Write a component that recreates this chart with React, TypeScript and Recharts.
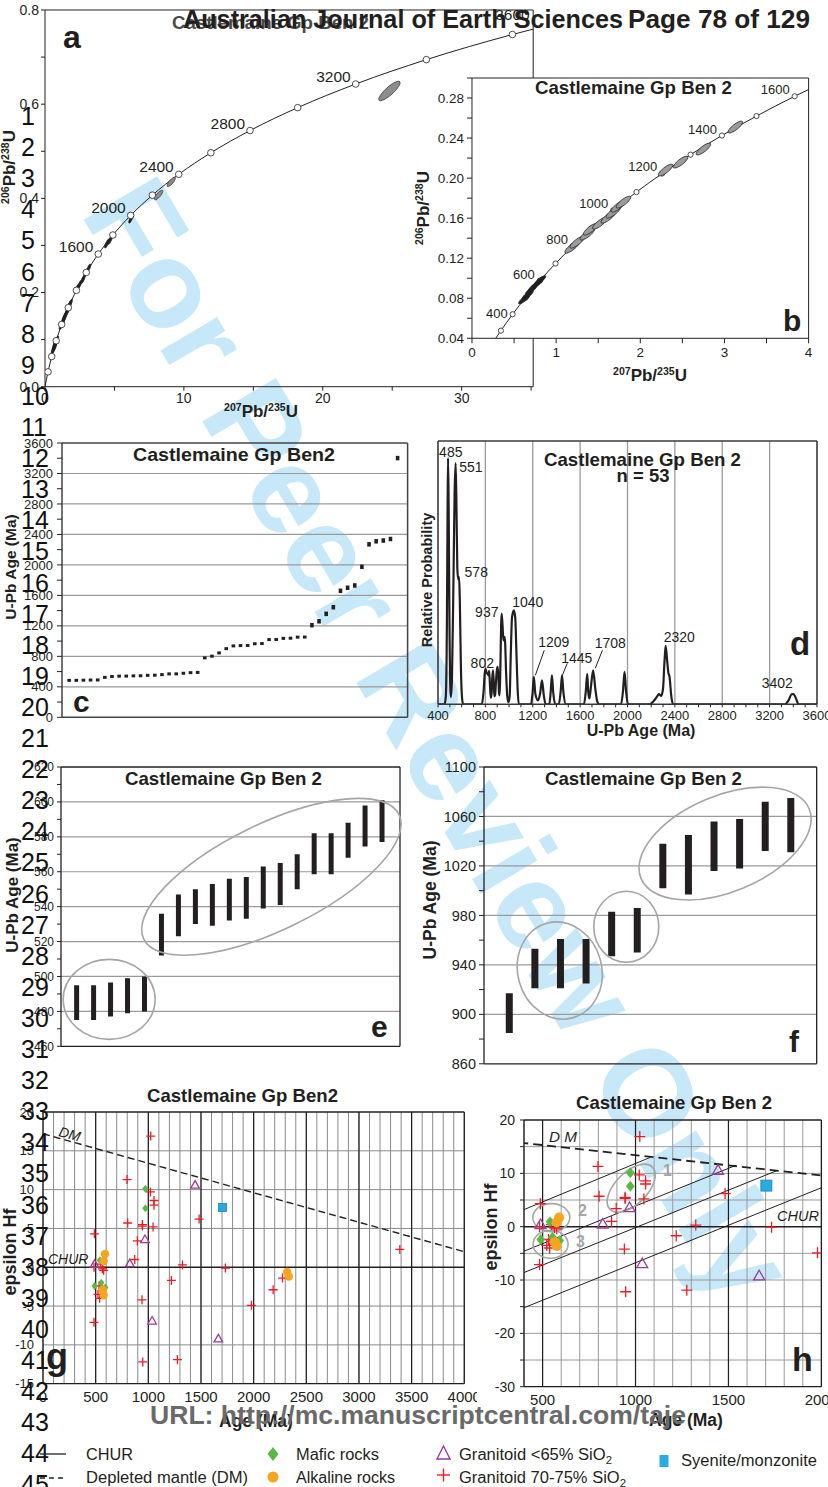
import React from 'react';
import {
  ComposedChart,
  Line,
  Scatter,
  Bar,
  XAxis,
  YAxis,
  CartesianGrid,
  ReferenceLine,
  ReferenceDot,
} from 'recharts';

const FONT = '"Liberation Sans", Arial, Helvetica, sans-serif';
const INK = '#231f20';
const GRID = '#9a9a9a';

// ---- a, b: concordia reference curve (Ma, 207Pb/235U, 206Pb/238U)
const concAge = [0, 100, 200, 300, 400, 500, 600, 700, 800, 900, 1000, 1100, 1200, 1300, 1400, 1500, 1600, 1700, 1800, 1900, 2000, 2200, 2400, 2600, 2800, 3000, 3200, 3400, 3600, 3700];
const concX = [0, 0.1035, 0.2177, 0.3437, 0.4828, 0.6363, 0.8056, 0.9925, 1.1987, 1.4263, 1.6774, 1.9545, 2.2603, 2.5977, 2.9701, 3.381, 3.8344, 4.3347, 4.8869, 5.4962, 6.1686, 7.7292, 9.6295, 11.943, 14.761, 18.193, 22.372, 27.46, 33.655, 37.28];
const concY = [0, 0.01563, 0.03151, 0.04764, 0.06402, 0.08065, 0.09754, 0.1147, 0.13213, 0.14983, 0.16781, 0.18607, 0.20461, 0.22344, 0.24256, 0.26198, 0.28172, 0.30175, 0.32209, 0.34277, 0.36377, 0.40674, 0.45106, 0.49679, 0.54396, 0.59261, 0.6428, 0.69456, 0.74795, 0.77529];
const concLabelsA = [1600, 2000, 2400, 2800, 3200, 3600];
const concLabelsB = [400, 600, 800, 1000, 1200, 1400, 1600];

// zircon analyses (error ellipse centres)
const grainX = [0.62, 0.66, 0.7, 0.74, 0.78, 0.81, 1.19, 1.25, 1.37, 1.41, 1.52, 1.62, 1.68, 1.74, 1.8, 2.3, 2.48, 2.75, 3.13, 4.46, 4.7, 6.2, 8.18, 9.09, 24.8];
const grainY = [0.079, 0.083, 0.088, 0.092, 0.095, 0.098, 0.131, 0.136, 0.144, 0.149, 0.155, 0.161, 0.166, 0.172, 0.176, 0.208, 0.216, 0.229, 0.251, 0.304, 0.312, 0.357, 0.407, 0.435, 0.628];

// ---- c: ranked U-Pb ages (Ma)
const cAges = [485, 485, 487, 489, 490, 524, 535, 540, 541, 544, 545, 551, 553, 560, 570, 570, 578, 586, 589, 780, 802, 845, 901, 937, 941, 943, 965, 968, 1020, 1021, 1036, 1038, 1052, 1053, 1209, 1260, 1358, 1445, 1660, 1700, 1730, 1975, 2270, 2310, 2320, 2340, 3402];

// ---- d: relative probability curve (Ma, % of frame)
const pdAge = [400, 455, 466, 475, 481, 485, 490, 497, 505, 510, 518, 530, 540, 549, 556, 563, 570, 578, 584, 593, 602, 612,
  770, 785, 795, 802, 810, 819, 826, 832, 838, 845, 852, 858, 864, 870, 876, 882, 890, 897, 904, 910, 916, 921, 927, 933, 937, 945, 952, 960, 966, 975, 985, 995, 1005, 1015, 1025, 1040, 1052, 1062, 1072, 1082,
  1185, 1198, 1209, 1222, 1244, 1262, 1278, 1293, 1309, 1340, 1352, 1362, 1372, 1390, 1420, 1436, 1447, 1458, 1480,
  1632, 1648, 1660, 1668, 1678, 1692, 1710, 1728, 1745, 1760,
  1945, 1962, 1975, 1988, 2003,
  2190, 2220, 2250, 2265, 2285, 2300, 2312, 2322, 2334, 2345, 2355, 2370, 2384,
  3330, 3360, 3385, 3402, 3420, 3445, 3600];
const pdProb = [0, 0, 3, 30, 75, 93.5, 75, 30, 5, 2.8, 10, 45, 80, 91.6, 75, 52, 47.5, 48.3, 40, 15, 3, 0,
  0, 5, 12, 13.5, 12, 11.6, 11, 12.7, 8, 2.5, 4, 10, 12.9, 9, 3, 3.5, 9, 13, 14.2, 10, 4, 3.4, 15, 30, 34.4, 30, 24.3, 25.6, 24, 12, 3, 0.8, 3, 20, 33, 35.7, 33, 20, 6, 0,
  0, 4, 10.4, 4, 1.5, 4, 9.1, 3.5, 0, 0, 5, 11, 5, 0, 0, 5, 11, 5, 0,
  0, 5, 11.6, 5, 2.2, 7, 12.9, 6, 1, 0,
  0, 5, 12.3, 5, 0,
  0, 1.2, 3, 3.9, 3.2, 6, 16, 22.2, 17, 12, 10.4, 3, 0,
  0, 1.5, 3.8, 3.9, 2.5, 0, 0];
const peakText = ['485', '551', '578', '802', '937', '1040', '1209', '1445', '1708', '2320', '3402'];
const peakLabelAge = [508, 677, 723, 774, 812, 1158, 1378, 1572, 1855, 2437, 3265];
const peakLabelProb = [95.7, 90, 50.1, 15.6, 34.9, 38.7, 23.5, 17.5, 23.2, 25.4, 8];
const leaderAge1 = [1297, 1492, 1788];
const leaderProb1 = [20.5, 15.6, 20.5];
const leaderAge2 = [1222, 1450, 1728];
const leaderProb2 = [11, 11, 13.7];

// ---- e: youngest grains, age range (Ma)
const eLow = [475, 475, 477, 479, 480, 512, 523, 530, 529, 532, 533, 539, 541, 550, 558.5, 558.5, 568, 574.5, 577];
const eHigh = [495, 495, 496.5, 499, 500, 536, 547, 550, 553, 556, 557, 563, 565, 570, 582, 582, 588, 598, 601];

// ---- f: 880-1080 Ma grains, age range (Ma)
const fLow = [885, 921, 921, 925, 947, 950, 1002, 997, 1016, 1018, 1032, 1031];
const fHigh = [917, 953, 961, 961, 983, 986, 1038, 1045, 1056, 1058, 1072, 1075];

// ---- g, h: epsilon Hf vs age
const granHiAge = [1023, 798, 1020, 1054, 1054, 1482, 804, 944, 944, 1045, 488, 896, 871, 1324, 1732, 1219, 3388, 2274, 2185, 1979, 940, 484, 947, 1276, 484, 548, 564, 576, 532, 522, 538];
const granHiEps = [16.9, 11.3, 9.7, 8.6, 8.0, 6.2, 5.7, 5.5, 5.3, 5.2, 4.3, 3.4, 1.0, 0.3, -0.1, -1.7, 2.3, -1.4, -2.9, -4.9, -4.2, -7.1, -12.2, -11.9, 0.0, 0.4, -0.2, -0.4, -2.4, -3.5, -4.0];
const granLoAge = [1444, 968, 824, 489, 1036, 1665];
const granLoEps = [10.6, 3.6, 0.5, 0.4, -6.9, -9.2];
const maficAge = [972, 972, 490, 540, 592, 553];
const maficEps = [10.1, 7.6, -2.4, 0.9, -2.6, -2.0];
const alkAge = [589, 576, 566, 576, 2318, 2334];
const alkEps = [1.7, 0.8, -2.9, -3.6, -0.6, -1.2];
const syenAge = [1704];
const syenEps = [7.7];
const dmAge = [0, 4000];
const dmEps = [17.2, 2.0];
const evoStartAge = [400, 400, 400, 400];
const evoStartEps = [3.2, -4.6, -8.6, -15.2];
const evoEndAge = [1080, 1540, 1760, 2000];
const evoEndEps = [13.0, 11.5, 10.5, 7.3];

// ---- tick values
const aXTicks = [0, 5, 10, 15, 20, 25, 30, 35];
const aYTicks = [0, 0.1, 0.2, 0.3, 0.4, 0.5, 0.6, 0.7, 0.8];
const bXTicks = [0, 0.5, 1, 1.5, 2, 2.5, 3, 3.5, 4];
const bYTicks = [0.04, 0.06, 0.08, 0.1, 0.12, 0.14, 0.16, 0.18, 0.2, 0.22, 0.24, 0.26, 0.28, 0.3];
const cYTicks = [0, 200, 400, 600, 800, 1000, 1200, 1400, 1600, 1800, 2000, 2200, 2400, 2600, 2800, 3000, 3200, 3400, 3600];
const dXLabels = [400, 800, 1200, 1600, 2000, 2400, 2800, 3200, 3600];
const eYTicks = [460, 470, 480, 490, 500, 510, 520, 530, 540, 550, 560, 570, 580, 590, 600, 610, 620];
const fYTicks = [860, 880, 900, 920, 940, 960, 980, 1000, 1020, 1040, 1060, 1080, 1100];
const gXTicks = [0, 500, 1000, 1500, 2000, 2500, 3000, 3500, 4000];
const gYTicks = [-15, -10, -5, 0, 5, 10, 15, 20];
const hXTicks = [500, 1000, 1500, 2000];
const hYTicks = [-30, -25, -20, -15, -10, -5, 0, 5, 10, 15, 20];

const concData = concAge.map((age, i) => ({ age, x: concX[i], y: concY[i] }));
const grains = grainX.map((x, i) => ({ x, y: grainY[i] }));
const circlesA = concData.filter((d) => d.age > 0 && d.age % 200 === 0);
const circlesB = concData.filter((d) => d.age >= 300 && d.age <= 1600);
const labelsA = concData.filter((d) => concLabelsA.includes(d.age));
const labelsB = concData.filter((d) => concLabelsB.includes(d.age));
const cData = cAges.map((y, i) => ({ x: i + 1, y }));
const pdData = pdAge.map((x, i) => ({ x, y: pdProb[i] }));
const peakData = peakText.map((t, i) => ({ x: peakLabelAge[i], y: peakLabelProb[i], t }));
const eData = eLow.map((lo, i) => ({ x: i + 1, r: [lo, eHigh[i]] }));
const fData = fLow.map((lo, i) => ({ x: i + 1, r: [lo, fHigh[i]] }));
const pts = (a: number[], e: number[]) => a.map((x, i) => ({ x, y: e[i] }));
const granHi = pts(granHiAge, granHiEps);
const granLo = pts(granLoAge, granLoEps);
const mafic = pts(maficAge, maficEps);
const alk = pts(alkAge, alkEps);
const syen = pts(syenAge, syenEps);

// grid positions
const d100 = Array.from({ length: 33 }, (_, i) => 400 + i * 100);
const g100 = Array.from({ length: 41 }, (_, i) => i * 100);
const h100 = Array.from({ length: 17 }, (_, i) => 400 + i * 100);

// plot frames on the page
type Frame = { L: number; T: number; R: number; B: number };
const FA = { L: 44.8, T: 10, R: 533, B: 386.7 };
const FB = { L: 471.7, T: 78, R: 808.3, B: 338.3 };
const FC = { L: 61.7, T: 442.7, R: 407.3, B: 717 };
const FD = { L: 437.7, T: 440.7, R: 816.7, B: 704 };
const FE = { L: 61, T: 766.7, R: 400, B: 1046 };
const FF = { L: 484, T: 766.5, R: 816.7, B: 1063.3 };
const FG = { L: 43.3, T: 1112.3, R: 464.6, B: 1384 };
const FH = { L: 524.3, T: 1120, R: 821.7, B: 1386.7 };
const A_XMAX = 35.15;

const YW = 40;
const MT = 6;
const MR = 12;
const XH = 28;

function Panel({ f, data, children }: { f: Frame; data?: any[]; children: React.ReactNode }) {
  const w = f.R - f.L + YW + MR;
  const h = f.B - f.T + MT + XH;
  return (
    <div style={{ position: 'absolute', left: f.L - YW, top: f.T - MT, width: w, height: h }}>
      <ComposedChart width={w} height={h} data={data} margin={{ top: MT, right: MR, bottom: 0, left: 0 }}>
        {children}
      </ComposedChart>
    </div>
  );
}

const tk = (s: number) => ({ fontSize: s, fill: INK, fontFamily: FONT });
const ln = (w = 1, c = INK) => ({ stroke: c, strokeWidth: w });

// ---- marker shapes
const openCircle = (r: number) => (p: any) => (
  <circle cx={p.cx} cy={p.cy} r={r} fill="#fff" stroke={INK} strokeWidth={0.8} />
);
const grainA = (p: any) => {
  const x = p.payload.x;
  const big = x > 20;
  const mid = x > 7;
  const rx = big ? 14 : mid ? 6 : 5;
  const ry = big ? 4 : mid ? 2 : 1.3;
  const rot = big ? -42 : mid ? -50 : -66;
  return (
    <ellipse cx={p.cx} cy={p.cy} rx={rx} ry={ry} fill={mid ? '#8d8d8d' : INK} stroke={INK} strokeWidth={0.6}
      transform={`rotate(${rot} ${p.cx} ${p.cy})`} />
  );
};
const grainB = (p: any) => {
  const young = p.payload.x < 1;
  return (
    <ellipse cx={p.cx} cy={p.cy} rx={young ? 7 : 9} ry={young ? 2 : 2.8} fill={young ? INK : '#9b9b9b'} stroke={INK}
      strokeWidth={0.7} transform={`rotate(-38 ${p.cx} ${p.cy})`} />
  );
};
const concLabel = (size: number) => (p: any) => {
  const age = p.payload.age;
  const top = age === 3600;
  const low = age === 400;
  return (
    <text x={top ? p.cx : p.cx - 5} y={top ? p.cy - 15 : low ? p.cy + 4 : p.cy - 2} textAnchor={top ? 'middle' : 'end'}
      fontSize={size} fill={INK} fontFamily={FONT}>
      {age}
    </text>
  );
};
const ageBox = (p: any) => {
  const h = p.payload.y > 1100 ? 4.5 : 3;
  return <rect x={p.cx - 1.8} y={p.cy - h / 2} width={3.6} height={h} fill={INK} />;
};
const peakLabel = (p: any) => (
  <text x={p.cx} y={p.cy + 5} textAnchor="middle" fontSize={14} fill={INK} fontFamily={FONT}>
    {p.payload.t}
  </text>
);
const ring = (rx: number, ry: number, rot: number) => (p: any) => (
  <ellipse cx={p.cx} cy={p.cy} rx={rx} ry={ry} fill="none" stroke="#a5a5a5" strokeWidth={1.6}
    transform={`rotate(${rot} ${p.cx} ${p.cy})`} />
);
const RED = '#ed1c24';
const PURPLE = '#9b3b98';
const GREEN = '#5ab946';
const ORANGE = '#f7a51e';
const BLUE = '#29abe2';
const plus = (s: number) => (p: any) => (
  <g stroke={RED} strokeWidth={1.3}>
    <line x1={p.cx - s} y1={p.cy} x2={p.cx + s} y2={p.cy} />
    <line x1={p.cx} y1={p.cy - s} x2={p.cx} y2={p.cy + s} />
  </g>
);
const tri = (s: number) => (p: any) => (
  <polygon points={`${p.cx},${p.cy - s} ${p.cx + s},${p.cy + s * 0.75} ${p.cx - s},${p.cy + s * 0.75}`} fill="none"
    stroke={PURPLE} strokeWidth={1.3} />
);
const diamond = (s: number) => (p: any) => (
  <polygon points={`${p.cx},${p.cy - s} ${p.cx + s * 0.8},${p.cy} ${p.cx},${p.cy + s} ${p.cx - s * 0.8},${p.cy}`} fill={GREEN} />
);
const blob = (r: number) => (p: any) => <circle cx={p.cx} cy={p.cy} r={r} fill={ORANGE} />;
const square = (s: number) => (p: any) => (
  <rect x={p.cx - s} y={p.cy - s} width={2 * s} height={2 * s} fill={BLUE} stroke="#1a7fb8" strokeWidth={0.8} />
);

// annotation rings (data-space centres, pixel radii)
const eRings = [
  { x: 2.92, y: 486.9, rx: 46, ry: 40, rot: 0 },
  { x: 12.48, y: 557.1, rx: 142, ry: 53, rot: -26 },
];
const fRings = [
  { x: 2.96, y: 935.4, rx: 42, ry: 49, rot: -15 },
  { x: 5.56, y: 970.8, rx: 32.5, ry: 35.5, rot: 0 },
  { x: 9.42, y: 1038.1, rx: 91, ry: 48, rot: -22.5 },
];
const hRings = [
  { x: 977, y: 7.2, rx: 30, ry: 16, rot: -45 },
  { x: 547, y: 1.7, rx: 18.5, ry: 14, rot: 0 },
  { x: 543, y: -3.3, rx: 17.5, ry: 14, rot: 0 },
];

function PanelA() {
  return (
    <Panel f={FA} data={concData}>
      <XAxis type="number" dataKey="x" domain={[0, A_XMAX]} ticks={aXTicks} interval={0} allowDataOverflow
        tickFormatter={(v: number) => (v % 10 === 0 ? String(v) : '')} tick={tk(14)} tickSize={4} tickMargin={2}
        axisLine={ln()} tickLine={ln()} height={XH} />
      <YAxis type="number" dataKey="y" domain={[0, 0.8]} ticks={aYTicks} interval={0} allowDataOverflow
        tickFormatter={(v: number) => (Math.round(v * 10) % 2 === 0 ? v.toFixed(1) : '')} tick={tk(14)} tickSize={4}
        tickMargin={2} axisLine={ln()} tickLine={ln()} width={YW} />
      <ReferenceLine y={0.8} stroke={INK} />
      <ReferenceLine x={A_XMAX} stroke={INK} />
      <Line dataKey="y" type="monotone" stroke={INK} strokeWidth={1} dot={false} isAnimationActive={false} />
      <Scatter data={grains} shape={grainA} isAnimationActive={false} />
      <Scatter data={circlesA} shape={openCircle(3.3)} isAnimationActive={false} />
      <Scatter data={labelsA} shape={concLabel(15.5)} isAnimationActive={false} />
    </Panel>
  );
}

function PanelB() {
  return (
    <Panel f={FB} data={concData}>
      <CartesianGrid fill="#fff" horizontal={false} vertical={false} />
      <XAxis type="number" dataKey="x" domain={[0, 4]} ticks={bXTicks} interval={0} allowDataOverflow
        tickFormatter={(v: number) => (v % 1 === 0 ? String(v) : '')} tick={tk(13.5)} tickSize={5} tickMargin={4}
        axisLine={ln()} tickLine={ln()} height={XH} />
      <YAxis type="number" dataKey="y" domain={[0.04, 0.3]} ticks={bYTicks} interval={0} allowDataOverflow
        tickFormatter={(v: number) => (Math.round(v * 100) % 4 === 0 ? v.toFixed(2) : '')} tick={tk(13.5)} tickSize={5}
        tickMargin={3} axisLine={ln()} tickLine={ln()} width={YW} />
      <ReferenceLine y={0.3} stroke={INK} />
      <ReferenceLine x={4} stroke={INK} />
      <Line dataKey="y" type="monotone" stroke={INK} strokeWidth={1} dot={false} isAnimationActive={false} />
      <Scatter data={circlesB} shape={openCircle(2.6)} isAnimationActive={false} />
      <Scatter data={grains.filter((g) => g.x <= 4)} shape={grainB} isAnimationActive={false} />
      <Scatter data={labelsB} shape={concLabel(13)} isAnimationActive={false} />
    </Panel>
  );
}

function PanelC() {
  return (
    <Panel f={FC} data={cData}>
      <CartesianGrid horizontalValues={[400, 800, 1200, 1600, 2000, 2400, 2800, 3200]} vertical={false} stroke={GRID}
        strokeWidth={1.2} />
      <XAxis type="number" dataKey="x" domain={[0, 48.4]} tick={false} tickLine={false} axisLine={ln(1.5, '#444')}
        allowDataOverflow height={XH} />
      <YAxis type="number" dataKey="y" domain={[0, 3600]} ticks={cYTicks} interval={0} allowDataOverflow
        tickFormatter={(v: number) => (v % 400 === 0 ? String(v) : '')} tick={tk(13)} tickSize={5} tickMargin={4}
        axisLine={ln(1.5, '#444')} tickLine={ln()} width={YW} />
      <ReferenceLine y={3600} stroke="#444" strokeWidth={1.5} />
      <ReferenceLine x={48.4} stroke="#444" strokeWidth={1.5} />
      <Scatter dataKey="y" shape={ageBox} isAnimationActive={false} />
    </Panel>
  );
}

function PanelD() {
  return (
    <Panel f={FD} data={pdData}>
      <CartesianGrid verticalValues={[800, 1200, 1600, 2000, 2400, 2800, 3200]} horizontal={false} stroke={GRID}
        strokeWidth={1.3} />
      <XAxis type="number" dataKey="x" domain={[400, 3600]} ticks={d100} interval={0} allowDataOverflow
        tickFormatter={(v: number) => (dXLabels.includes(v) ? String(v) : '')} tick={tk(13)} tickSize={3} tickMargin={3}
        axisLine={ln(1.6, '#3a3a3a')} tickLine={ln()} height={XH} />
      <YAxis type="number" dataKey="y" domain={[0, 100]} tick={false} tickLine={false} axisLine={ln(1.6, '#3a3a3a')}
        allowDataOverflow width={YW} />
      <ReferenceLine y={100} stroke="#3a3a3a" strokeWidth={1.6} />
      <ReferenceLine x={3600} stroke="#3a3a3a" strokeWidth={1.6} />
      <Line dataKey="y" type="monotone" stroke={INK} strokeWidth={2.2} dot={false} isAnimationActive={false} />
      {leaderAge1.map((a, i) => (
        <ReferenceLine key={a} segment={[{ x: a, y: leaderProb1[i] }, { x: leaderAge2[i], y: leaderProb2[i] }]}
          stroke={INK} strokeWidth={1} />
      ))}
      <Scatter data={peakData} shape={peakLabel} isAnimationActive={false} />
    </Panel>
  );
}

function PanelE() {
  return (
    <Panel f={FE} data={eData}>
      <CartesianGrid horizontalValues={[480, 500, 520, 540, 560, 580, 600]} vertical={false} stroke={GRID} strokeWidth={1.2} />
      <XAxis type="number" dataKey="x" domain={[0.08, 20.06]} ticks={eData.map((d) => d.x)} interval={0} tick={false}
        tickLine={false} axisLine={ln(1.3)} allowDataOverflow height={XH} />
      <YAxis type="number" dataKey="y" domain={[460, 620]} ticks={eYTicks} interval={0} allowDataOverflow
        tickFormatter={(v: number) => (v % 20 === 0 ? String(v) : '')} tick={tk(12)} tickSize={4} tickMargin={3}
        axisLine={ln(1.3)} tickLine={ln()} width={YW} />
      <ReferenceLine y={620} stroke={INK} strokeWidth={1.3} />
      <ReferenceLine x={20.06} stroke={INK} strokeWidth={1.3} />
      <Bar dataKey="r" barSize={5} fill={INK} isAnimationActive={false} />
      {eRings.map((r, i) => (
        <ReferenceDot key={i} x={r.x} y={r.y} r={1} shape={ring(r.rx, r.ry, r.rot)} />
      ))}
    </Panel>
  );
}

function PanelF() {
  return (
    <Panel f={FF} data={fData}>
      <CartesianGrid horizontalValues={[900, 940, 980, 1020, 1060]} vertical={false} stroke={GRID} strokeWidth={1.2} />
      <XAxis type="number" dataKey="x" domain={[0, 13]} ticks={fData.map((d) => d.x)} interval={0} tick={false}
        tickLine={false} axisLine={ln(1.3)} allowDataOverflow height={XH} />
      <YAxis type="number" dataKey="y" domain={[860, 1100]} ticks={fYTicks} interval={0} allowDataOverflow
        tickFormatter={(v: number) => (v % 40 === 20 ? String(v) : '')} tick={tk(14.5)} tickSize={5} tickMargin={3}
        axisLine={ln(1.3)} tickLine={ln()} width={YW} />
      <ReferenceLine y={1100} stroke={INK} strokeWidth={1.3} />
      <ReferenceLine x={13} stroke={INK} strokeWidth={1.3} />
      <Bar dataKey="r" barSize={7} fill={INK} isAnimationActive={false} />
      {fRings.map((r, i) => (
        <ReferenceDot key={i} x={r.x} y={r.y} r={1} shape={ring(r.rx, r.ry, r.rot)} />
      ))}
    </Panel>
  );
}

function PanelG() {
  return (
    <Panel f={FG}>
      <CartesianGrid verticalValues={g100} horizontalValues={[-10, -5, 5, 10, 15]} stroke="#8a8a8a" strokeWidth={1} />
      <XAxis type="number" dataKey="x" domain={[0, 4000]} ticks={gXTicks} interval={0} allowDataOverflow tick={tk(15)}
        tickSize={0} tickMargin={8} tickLine={false} axisLine={ln(1.3)} height={XH} />
      <YAxis type="number" dataKey="y" domain={[-15, 20]} ticks={gYTicks} interval={0} allowDataOverflow tick={tk(13)}
        tickSize={0} tickMargin={9} tickLine={false} axisLine={ln(1.3)} width={YW} />
      {[500, 1000, 1500, 2000, 2500, 3000, 3500].map((v) => (
        <ReferenceLine key={v} x={v} stroke={INK} strokeWidth={1.2} />
      ))}
      <ReferenceLine y={20} stroke={INK} strokeWidth={1.3} />
      <ReferenceLine x={4000} stroke={INK} strokeWidth={1.3} />
      <ReferenceLine y={0} stroke={INK} strokeWidth={1.6} />
      <ReferenceLine segment={[{ x: dmAge[0], y: dmEps[0] }, { x: dmAge[1], y: dmEps[1] }]} stroke={INK}
        strokeWidth={1.4} strokeDasharray="7 4" />
      <Scatter data={granHi} shape={plus(4.5)} isAnimationActive={false} />
      <Scatter data={granLo} shape={tri(4.3)} isAnimationActive={false} />
      <Scatter data={mafic} shape={diamond(4)} isAnimationActive={false} />
      <Scatter data={alk} shape={blob(4.2)} isAnimationActive={false} />
      <Scatter data={syen} shape={square(4)} isAnimationActive={false} />
    </Panel>
  );
}

function PanelH() {
  return (
    <Panel f={FH}>
      <CartesianGrid verticalValues={h100} horizontalValues={[-25, -20, -15, -10, -5, 5, 10, 15]} stroke="#9a9a9a"
        strokeWidth={1} />
      <XAxis type="number" dataKey="x" domain={[400, 2000]} ticks={hXTicks} interval={0} allowDataOverflow tick={tk(15)}
        tickSize={0} tickMargin={8} tickLine={false} axisLine={ln(1.3)} height={XH} />
      <YAxis type="number" dataKey="y" domain={[-30, 20]} ticks={hYTicks} interval={0} allowDataOverflow
        tickFormatter={(v: number) => (v % 10 === 0 ? String(v) : '')} tick={tk(14)} tickSize={4} tickMargin={5}
        axisLine={ln(1.3)} tickLine={ln()} width={YW} />
      {[500, 1000, 1500].map((v) => (
        <ReferenceLine key={v} x={v} stroke={INK} strokeWidth={1.2} />
      ))}
      <ReferenceLine y={20} stroke={INK} strokeWidth={1.3} />
      <ReferenceLine x={2000} stroke={INK} strokeWidth={1.3} />
      <ReferenceLine y={0} stroke={INK} strokeWidth={1.6} />
      {evoStartAge.map((a, i) => (
        <ReferenceLine key={i} segment={[{ x: a, y: evoStartEps[i] }, { x: evoEndAge[i], y: evoEndEps[i] }]} stroke={INK}
          strokeWidth={1} />
      ))}
      <ReferenceLine segment={[{ x: dmAge[0], y: dmEps[0] }, { x: dmAge[1], y: dmEps[1] }]} stroke={INK}
        strokeWidth={1.8} strokeDasharray="9 5" ifOverflow="hidden" />
      {hRings.map((r, i) => (
        <ReferenceDot key={i} x={r.x} y={r.y} r={1} shape={ring(r.rx, r.ry, r.rot)} />
      ))}
      <Scatter data={granHi} shape={plus(5.5)} isAnimationActive={false} />
      <Scatter data={granLo} shape={tri(5.5)} isAnimationActive={false} />
      <Scatter data={mafic} shape={diamond(5.5)} isAnimationActive={false} />
      <Scatter data={alk} shape={blob(5)} isAnimationActive={false} />
      <Scatter data={syen} shape={square(5.5)} isAnimationActive={false} />
    </Panel>
  );
}

// ---- page text
function Iso({ x, y, a, b, c, d, s, rot, anchor = 'middle' }: any) {
  const sup = s * 0.62;
  return (
    <text x={x} y={y} fontSize={s} fontWeight="bold" fill={INK} fontFamily={FONT} textAnchor={anchor}
      transform={rot ? `rotate(${rot} ${x} ${y})` : undefined}>
      <tspan fontSize={sup} dy={-s * 0.38}>{a}</tspan>
      <tspan dy={s * 0.38}>{b}</tspan>
      <tspan fontSize={sup} dy={-s * 0.38}>{c}</tspan>
      <tspan dy={s * 0.38}>{d}</tspan>
    </text>
  );
}

function T({ x, y, s, b, c, i, len, rot, anchor, children }: any) {
  return (
    <text x={x} y={y} fontSize={s} fontWeight={b ? 'bold' : 'normal'} fontStyle={i ? 'italic' : 'normal'} fill={c || INK}
      fontFamily={FONT} textAnchor={anchor || 'start'} textLength={len} lengthAdjust={len ? 'spacingAndGlyphs' : undefined}
      transform={rot ? `rotate(${rot} ${x} ${y})` : undefined}>
      {children}
    </text>
  );
}

function VLabel({ x, y, s, children }: any) {
  return (
    <text x={x} y={y} fontSize={s} fontWeight="bold" fill={INK} fontFamily={FONT} textAnchor="middle"
      dominantBaseline="central" transform={`rotate(-90 ${x} ${y})`}>
      {children}
    </text>
  );
}

const lineNos = Array.from({ length: 45 }, (_, i) => i + 1);

function Overlay() {
  return (
    <svg width={828} height={1487} style={{ position: 'absolute', left: 0, top: 0, pointerEvents: 'none' }}>
      {/* panel a */}
      <T x={172} y={29} s={18} b c="#4a4a4a" len={197}>Castlemaine Gp Ben 2</T>
      <T x={63} y={48} s={32} b>a</T>
      <Iso x={261} y={417} s={17} a="207" b="Pb/" c="235" d="U" />
      <Iso x={15} y={167} s={17} a="206" b="Pb/" c="238" d="U" rot={-90} />
      {/* panel b */}
      <T x={535} y={94} s={18.5} b len={197}>Castlemaine Gp Ben 2</T>
      <T x={783} y={331} s={30} b>b</T>
      <Iso x={650} y={381} s={17} a="207" b="Pb/" c="235" d="U" />
      <Iso x={429} y={208} s={17} a="206" b="Pb/" c="238" d="U" rot={-90} />
      {/* panel c */}
      <T x={133} y={461} s={19} b len={202}>Castlemaine Gp Ben2</T>
      <T x={73} y={712} s={30} b>c</T>
      <VLabel x={10} y={567} s={15.5}>U-Pb Age (Ma)</VLabel>
      {/* panel d */}
      <T x={544} y={466} s={18.5} b len={197}>Castlemaine Gp Ben 2</T>
      <T x={643} y={482} s={18.5} b anchor="middle">n = 53</T>
      <T x={790} y={655} s={33} b>d</T>
      <VLabel x={427} y={580} s={14.5}>Relative Probability</VLabel>
      <T x={641} y={736} s={16} b anchor="middle">U-Pb Age (Ma)</T>
      {/* panel e */}
      <T x={125} y={785} s={18.5} b len={197}>Castlemaine Gp Ben 2</T>
      <T x={371} y={1037} s={30} b>e</T>
      <VLabel x={12} y={895} s={17}>U-Pb Age  (Ma)</VLabel>
      {/* panel f */}
      <T x={545} y={785} s={18.5} b len={197}>Castlemaine Gp Ben 2</T>
      <T x={789} y={1052} s={30} b>f</T>
      <VLabel x={430} y={900} s={17.5}>U-Pb Age (Ma)</VLabel>
      {/* panel g */}
      <T x={147} y={1102} s={18.5} b len={191}>Castlemaine Gp Ben2</T>
      <T x={46} y={1369} s={36} b>g</T>
      <VLabel x={10} y={1252} s={18}>epsilon Hf</VLabel>
      <T x={256} y={1427} s={17.5} b anchor="middle">Age (Ma)</T>
      <T x={58} y={1136} s={14} i rot={15}>DM</T>
      <T x={48} y={1264} s={14} i>CHUR</T>
      {/* panel h */}
      <T x={576} y={1109} s={18.5} b len={196}>Castlemaine Gp Ben 2</T>
      <T x={792} y={1371} s={34} b>h</T>
      <VLabel x={491} y={1227} s={18}>epsilon Hf</VLabel>
      <T x={686} y={1426} s={17.5} b anchor="middle">Age (Ma)</T>
      <T x={549} y={1142} s={15} i len={28}>D M</T>
      <T x={777} y={1221} s={15} i len={42}>CHUR</T>
      <T x={663} y={1176} s={16} b c="#a5a5a5">1</T>
      <T x={578} y={1216} s={16} b c="#a5a5a5">2</T>
      <T x={576} y={1247} s={16} b c="#a5a5a5">3</T>

      {/* page furniture */}
      <T x={183} y={28} s={25} b len={440}>Australian Journal of Earth Sciences</T>
      <T x={628} y={28} s={25} b len={182}>Page 78 of 129</T>
      <T x={150} y={1424} s={26} b c="#6a6a6a" len={536}>URL: http://mc.manuscriptcentral.com/taje</T>
      {lineNos.map((n) => (
        <text key={n} x={21} y={116 + (n - 1) * 31.1 + 9} fontSize={25} fill="#111" fontFamily={FONT}>
          {n}
        </text>
      ))}

      {/* legend */}
      <line x1={40} y1={1454} x2={66} y2={1454} stroke={INK} strokeWidth={1.3} />
      <line x1={40} y1={1478} x2={66} y2={1478} stroke={INK} strokeWidth={1.3} strokeDasharray="5 4" />
      <T x={86} y={1460} s={16} len={47}>CHUR</T>
      <T x={86} y={1483} s={16} len={162}>Depleted mantle (DM)</T>
      <polygon points="273,1447 278.5,1454 273,1461 267.5,1454" fill={GREEN} />
      <circle cx={273} cy={1477} r={5.5} fill={ORANGE} />
      <T x={296} y={1460} s={16} len={83}>Mafic rocks</T>
      <T x={296} y={1483} s={16} len={99}>Alkaline rocks</T>
      <polygon points="443.5,1446 450,1459 437,1459" fill="none" stroke={PURPLE} strokeWidth={1.4} />
      <g stroke={RED} strokeWidth={1.4}>
        <line x1={437} y1={1475} x2={450} y2={1475} />
        <line x1={443.5} y1={1468.5} x2={443.5} y2={1481.5} />
      </g>
      <T x={459} y={1460} s={16} len={153}>
        Granitoid &lt;65% SiO<tspan fontSize={11} dy={4}>2</tspan>
      </T>
      <T x={459} y={1483} s={16} len={167}>
        Granitoid 70-75% SiO<tspan fontSize={11} dy={4}>2</tspan>
      </T>
      <rect x={659.5} y={1455} width={9} height={12} fill={BLUE} />
      <T x={681} y={1466} s={16} len={136}>Syenite/monzonite</T>
    </svg>
  );
}

export default function App() {
  return (
    <div style={{ position: 'relative', width: 828, height: 1487, overflow: 'hidden', background: '#fff', fontFamily: FONT }}>
      <style>{'body{margin:0}'}</style>
      <svg width={828} height={1487} style={{ position: 'absolute', left: 0, top: 0 }}>
        <text x={0} y={0} transform="translate(440 740) rotate(59.5)" textAnchor="middle" dominantBaseline="central"
          fontSize={124} fontWeight="bold" fill="#c6e8f9" fontFamily={FONT}>
          For Peer Review Only
        </text>
      </svg>
      <PanelA />
      <PanelB />
      <PanelC />
      <PanelD />
      <PanelE />
      <PanelF />
      <PanelG />
      <PanelH />
      <Overlay />
    </div>
  );
}
